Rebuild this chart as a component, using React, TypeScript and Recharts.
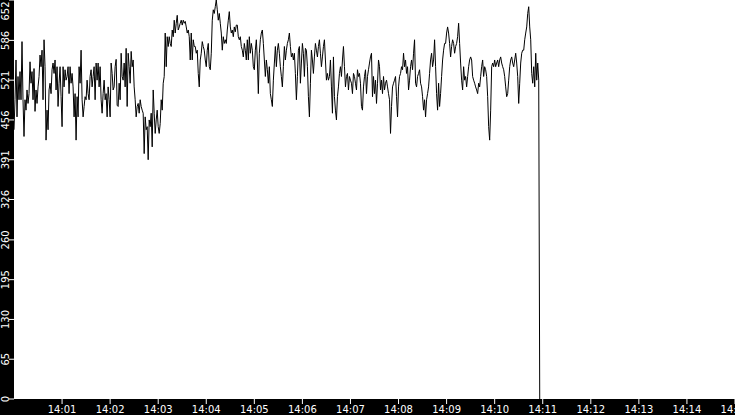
import { CartesianGrid, Line, LineChart, XAxis, YAxis } from 'recharts'

// readings, one every 1.25 s starting 14:00:00
const valuesA = [
  440, 489, 554, 461, 527, 489, 535, 489, 584, 489,
  429, 489, 472, 505, 483, 499, 551, 516, 535, 489,
  540, 470,
  505, 483, 510, 527, 562, 543, 570, 489, 587, 543,
  423, 472, 440, 505, 516, 499, 538, 549, 532, 554,
  505, 543, 478, 516, 543, 494, 445, 543, 510, 538,
  521, 527, 543, 499, 543, 516, 532, 510, 461, 499,
  423, 494, 461, 543, 516, 570, 489, 461, 478, 494,
  489, 521, 499, 489, 527, 538, 510, 527, 543, 489,
  549, 521, 549, 510, 543, 489, 467, 499, 521, 489,
  499, 461, 510, 489, 461, 549, 532, 505, 510, 543,
  555, 480,
  478, 516, 489, 565, 527, 521, 549, 510, 573, 478,
  565, 543, 516, 568, 543, 554, 510, 489, 461, 478,
  483, 467, 489, 478, 472, 467, 401, 461, 440, 445,
  391, 456, 445, 467, 412, 505, 467, 434, 456, 472,
  445, 434, 450, 489, 472, 516, 527, 598, 543, 592,
  576, 592, 581, 576, 603, 592, 619, 598, 614, 627,
  603, 608, 614, 619, 611, 619, 614, 617, 608, 598,
  603, 592, 554, 598, 554, 587, 576, 576, 565, 570,
  532, 510, 554, 565, 584, 576, 570, 554, 543, 570,
  581, 543, 538, 565, 619, 636, 630, 641,
]

const valuesB = [
  652, 636, 619, 630, 614, 598, 570, 592, 581, 587,
  581, 603, 619, 633, 608, 598, 603, 592, 608, 600,
  611, 611, 592, 587, 592, 576, 570, 559, 581, 570,
  554, 587, 554, 592, 565, 581, 570, 543, 538, 570,
  587, 554, 499, 565, 587, 598, 603, 581, 554, 527,
  554, 538, 516, 543, 499, 489, 478, 521, 549, 576,
  543, 570, 581,
]

const valuesC = [
  565, 543, 527, 510, 543, 576, 554, 570, 581,
  587, 598, 576, 559, 565, 554, 565, 532, 489, 527,
  570, 576, 516, 549, 581, 565, 527, 573, 570,
  543, 494, 461, 516, 570, 554, 532, 559, 581,
  570, 559, 576, 587, 565, 543, 559, 576, 587, 554,
  521, 532, 521, 527, 554, 510, 467, 559, 494, 472,
  456, 494, 510, 532, 543, 527, 554, 576, 543,
  510, 527, 532, 505, 527, 521, 516, 499, 532, 527,
  516, 505, 538, 527, 532, 516, 478, 472, 510, 527,
  538,
]

const valuesD = [
  499, 527, 538, 549, 559, 565, 494, 527, 499, 521,
  483, 516, 554, 543, 505, 521, 499, 527, 505,
  516, 521, 510, 499, 489, 434, 478, 510, 516,
  521, 527, 494, 461, 510, 527, 532, 543, 538, 565,
  543, 554, 532, 543, 505, 521, 543, 554, 538,
  565, 587, 516, 510, 527, 532, 538, 516, 510, 494,
  472, 489, 461, 489, 499, 510, 532, 554, 565,
  543, 554, 587, 543, 499, 472, 516, 478, 499, 527,
  554, 570, 581, 581, 598, 608, 598, 581, 559, 576,
  587,
]

const valuesE = [
  581, 565, 576, 581, 592, 614, 581, 549, 521, 505,
  543, 521, 527, 510, 527, 543, 554, 559, 554, 527,
  521, 516, 510, 505, 499, 516, 510, 527, 543, 554,
  527, 543, 538, 527, 494, 445, 423, 472, 543, 549,
  543, 554, 543, 549, 554, 543, 554, 559, 549, 543,
  538, 527, 510, 494, 499, 521, 543, 554, 559, 549,
  543, 554, 565, 549, 527, 483, 516, 549, 565, 570,
  570, 587, 598, 608, 630, 641, 608, 587, 532, 516,
  543, 510, 565, 521, 549, 521,
]

// feed stops at about 14:10:57
const dropValue = 0

const stepSeconds = 1.25
const xTickLabels = [
  '14:01', '14:02', '14:03', '14:04', '14:05', '14:06', '14:07', '14:08',
  '14:09', '14:10', '14:11', '14:12', '14:13', '14:14', '14:15',
]
const yTicks = [0, 65, 130, 195, 260, 326, 391, 456, 521, 586, 652]

const values = [...valuesA, ...valuesB, ...valuesC, ...valuesD, ...valuesE, dropValue]
const data = values.map((v, i) => ({ t: i * stepSeconds, v }))
const xTicks = xTickLabels.map((_, i) => (i + 1) * 60)

function YTick({ x, y, payload }: any) {
  const cy = Math.max(y, 11)
  return (
    <text
      x={x}
      y={cy}
      transform={`rotate(-90, ${x}, ${cy})`}
      textAnchor="middle"
      fill="#fff"
      fontSize={10}
      fontFamily="DejaVu Sans"
    >
      {payload.value}
    </text>
  )
}

function XTick({ x, y, payload, index }: any) {
  return (
    <text
      x={x}
      y={y}
      dy="0.71em"
      textAnchor="middle"
      fill="#fff"
      fontSize={10}
      fontFamily="DejaVu Sans"
    >
      {xTickLabels[index] ?? payload.value}
    </text>
  )
}

export default function App() {
  return (
    <div style={{ position: 'absolute', left: 0, top: 0, width: 735, height: 415, background: '#000' }}>
      <LineChart width={735} height={415} data={data} margin={{ top: 0, right: 0, bottom: 0, left: 0 }}>
        <CartesianGrid fill="#fff" horizontal={false} vertical={false} />
        <XAxis
          dataKey="t"
          type="number"
          domain={[0, 900]}
          ticks={xTicks}
          interval={0}
          height={16}
          tickSize={5}
          tickMargin={2}
          axisLine={false}
          tickLine={{ stroke: '#fff' }}
          tick={<XTick />}
        />
        <YAxis
          type="number"
          domain={[0, 652]}
          ticks={yTicks}
          interval={0}
          width={14}
          tickSize={5}
          tickMargin={0}
          axisLine={false}
          tickLine={{ stroke: '#fff' }}
          tick={<YTick />}
        />
        <Line
          dataKey="v"
          type="linear"
          stroke="#000"
          strokeWidth={1}
          dot={false}
          isAnimationActive={false}
        />
      </LineChart>
    </div>
  )
}
